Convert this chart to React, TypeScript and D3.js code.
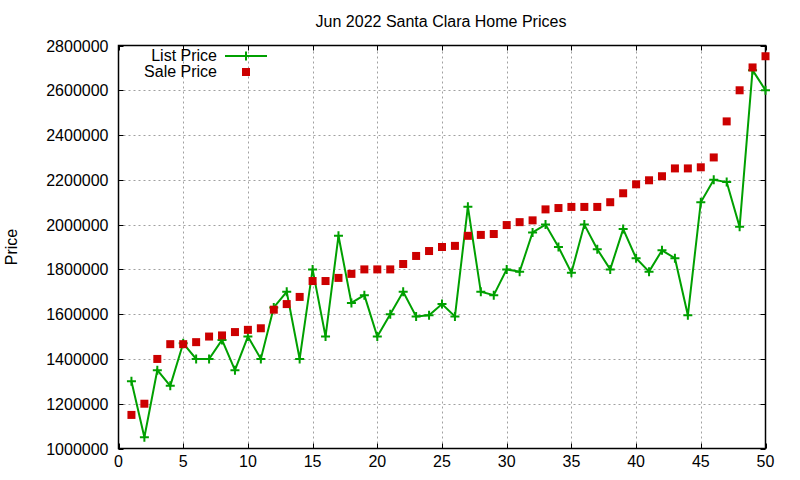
import React, { useEffect } from 'react';
import * as d3 from 'd3';

// index of each home (1..50)
const homeIndex: number[] = d3.range(1, 51);

const listPrices: number[] = [
  1300000, 1050000, 1350000, 1280000, 1470000, 1400000, 1400000, 1485000, 1350000, 1500000,
  1400000, 1630000, 1700000, 1400000, 1800000, 1500000, 1950000, 1650000, 1685000, 1500000,
  1600000, 1700000, 1590000, 1595000, 1645000, 1590000, 2080000, 1700000, 1685000, 1800000,
  1790000, 1965000, 2000000, 1900000, 1785000, 2000000, 1890000, 1800000, 1980000, 1850000,
  1790000, 1885000, 1850000, 1595000, 2100000, 2200000, 2190000, 1990000, 2690000, 2600000,
];

const salePrices: number[] = [
  1150000, 1200000, 1400000, 1466000, 1466000, 1475000, 1500000, 1505000, 1520000, 1530000,
  1537000, 1620000, 1645000, 1677000, 1748000, 1748000, 1762000, 1780000, 1800000, 1800000,
  1800000, 1824000, 1860000, 1882000, 1900000, 1905000, 1950000, 1954000, 1958000, 1998000,
  2011000, 2019000, 2068000, 2074000, 2079000, 2079000, 2079000, 2100000, 2140000, 2180000,
  2198000, 2216000, 2251000, 2251000, 2256000, 2300000, 2461000, 2600000, 2702000, 2752000,
];

const xTicks: number[] = [0, 5, 10, 15, 20, 25, 30, 35, 40, 45, 50];
const yTicks: number[] = [1000000, 1200000, 1400000, 1600000, 1800000, 2000000, 2200000, 2400000, 2600000, 2800000];

const title = 'Jun 2022 Santa Clara Home Prices';
const yLabel = 'Price';
const seriesNames = ['List Price', 'Sale Price'];

const WIDTH = 800;
const HEIGHT = 480;
const margin = { left: 118.5, right: 34.5, top: 45.5, bottom: 31.5 };

const GREEN = '#00a000';
const RED = '#cc0000';
const FONT = '"Liberation Sans", Arial, sans-serif';

export default function App() {
  useEffect(() => {
    document.body.style.margin = '0';
  }, []);

  const x = d3.scaleLinear().domain([0, 50]).range([margin.left, WIDTH - margin.right]);
  const y = d3.scaleLinear().domain([1000000, 2800000]).range([HEIGHT - margin.bottom, margin.top]);

  const x0 = x.range()[0];
  const x1 = x.range()[1];
  const y0 = y.range()[0];
  const y1 = y.range()[1];

  const line = d3.line<number>()
    .x((_, i) => x(homeIndex[i]))
    .y((d) => y(d));

  const plus = (cx: number, cy: number, r = 4.5) => `M${cx - r},${cy}H${cx + r}M${cx},${cy - r}V${cy + r}`;
  const tick = 5;
  const sq = 8;

  return (
    <svg width={WIDTH} height={HEIGHT} style={{ display: 'block', background: '#fff' }} fontFamily={FONT}>
      {/* grid */}
      <g stroke="#a0a0a0" strokeWidth={1} strokeDasharray="2,3">
        {xTicks.filter((t) => t !== 0 && t !== 50).map((t) => (
          <line key={`gx${t}`} x1={Math.round(x(t)) + 0.5} x2={Math.round(x(t)) + 0.5} y1={y0} y2={y1} />
        ))}
        {yTicks.filter((t) => t !== 1000000 && t !== 2800000).map((t) => (
          <line key={`gy${t}`} x1={x0} x2={x1} y1={Math.round(y(t)) + 0.5} y2={Math.round(y(t)) + 0.5} />
        ))}
      </g>

      {/* ticks, mirrored inward */}
      <g stroke="#000" strokeWidth={1}>
        {xTicks.map((t) => {
          const px = Math.round(x(t)) + 0.5;
          return (
            <g key={`tx${t}`}>
              <line x1={px} x2={px} y1={y0} y2={y0 - tick} />
              <line x1={px} x2={px} y1={y1} y2={y1 + tick} />
            </g>
          );
        })}
        {yTicks.map((t) => {
          const py = Math.round(y(t)) + 0.5;
          return (
            <g key={`ty${t}`}>
              <line x1={x0} x2={x0 + tick} y1={py} y2={py} />
              <line x1={x1} x2={x1 - tick} y1={py} y2={py} />
            </g>
          );
        })}
      </g>

      {/* tick labels */}
      <g fontSize={16} fill="#000">
        {xTicks.map((t) => (
          <text key={`lx${t}`} x={x(t)} y={y0 + 18} textAnchor="middle">{t}</text>
        ))}
        {yTicks.map((t) => (
          <text key={`ly${t}`} x={x0 - 10} y={y(t) + 6} textAnchor="end">{t}</text>
        ))}
      </g>

      {/* frame */}
      <rect x={x0} y={y1} width={x1 - x0} height={y0 - y1} fill="none" stroke="#000" strokeWidth={1.5} />

      {/* title and axis label */}
      <text x={441} y={27} textAnchor="middle" fontSize={16}>{title}</text>
      <text transform={`translate(17,247) rotate(-90)`} textAnchor="middle" fontSize={16}>{yLabel}</text>

      {/* list price */}
      <path d={line(listPrices) ?? ''} fill="none" stroke={GREEN} strokeWidth={2} strokeLinejoin="miter" />
      <path
        d={listPrices.map((v, i) => plus(x(homeIndex[i]), y(v))).join('')}
        fill="none"
        stroke={GREEN}
        strokeWidth={2}
      />

      {/* sale price */}
      <g fill={RED}>
        {salePrices.map((v, i) => (
          <rect key={`s${i}`} x={x(homeIndex[i]) - sq / 2} y={y(v) - sq / 2} width={sq} height={sq} />
        ))}
      </g>

      {/* legend */}
      <g fontSize={16}>
        <text x={217} y={61} textAnchor="end">{seriesNames[0]}</text>
        <line x1={225} x2={267} y1={56} y2={56} stroke={GREEN} strokeWidth={2} />
        <path d={plus(246, 56)} stroke={GREEN} strokeWidth={2} />
        <text x={217} y={77} textAnchor="end">{seriesNames[1]}</text>
        <rect x={246 - sq / 2} y={72 - sq / 2} width={sq} height={sq} fill={RED} />
      </g>
    </svg>
  );
}
